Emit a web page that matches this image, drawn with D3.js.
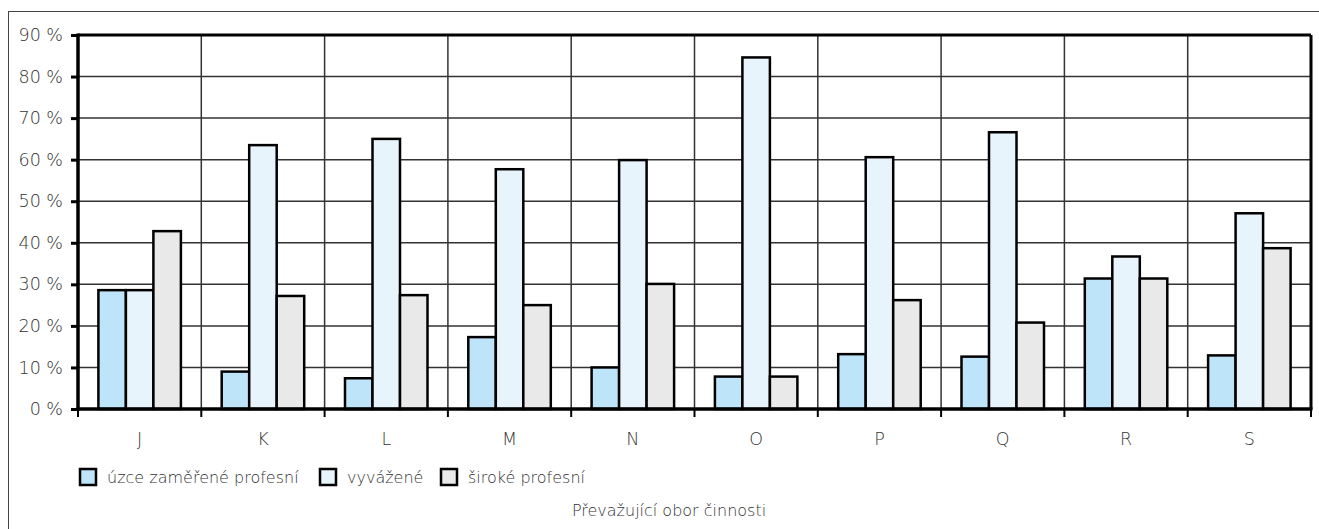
<!DOCTYPE html>
<html><head><meta charset="utf-8">
<script src="https://cdn.jsdelivr.net/npm/d3@7"></script>
<style>
body{margin:0;background:#fff;}
text{font-family:"DejaVu Sans",sans-serif;font-weight:200;fill:#333;}
</style></head>
<body><svg id="c" width="1319" height="529"></svg>
<script>
const categories = ["J","K","L","M","N","O","P","Q","R","S"];
const seriesNames = ["úzce zaměřené profesní","vyvážené","široké profesní"];
const uzce = [28.6, 9.0, 7.4, 17.3, 10.0, 7.8, 13.2, 12.6, 31.4, 12.9];
const vyvazene = [28.6, 63.5, 65.0, 57.7, 59.9, 84.6, 60.6, 66.6, 36.7, 47.1];
const siroke = [42.8, 27.2, 27.4, 25.0, 30.1, 7.8, 26.2, 20.8, 31.4, 38.7];
const yTicks = [0,10,20,30,40,50,60,70,80,90];
const axisTitle = "Převažující obor činnosti";
const colors = ["#bde4f8","#e8f4fc","#e9e9e9"];

const svg = d3.select("#c");
const pL = 78, pR = 1311, pT = 35, pB = 409;
const series = [uzce, vyvazene, siroke];
const FF = '"DejaVu Sans", sans-serif';

// outer frame
svg.append("rect").attr("x",8.5).attr("y",11.5).attr("width",1320).attr("height",530)
  .attr("fill","none").attr("stroke","#444").attr("stroke-width",1);

const x = d3.scaleBand().domain(categories).range([pL,pR]).paddingInner(0).paddingOuter(0);
const y = d3.scaleLinear().domain([0,90]).range([pB,pT]);
const xs = d3.scaleBand().domain([0,1,2]).range([0, x.bandwidth()]).paddingInner(0).paddingOuter(0.742);

// gridlines
svg.append("g").selectAll("line").data(yTicks.filter(d=>d>0 && d<90)).join("line")
  .attr("x1",pL).attr("x2",pR).attr("y1",d=>y(d)).attr("y2",d=>y(d))
  .attr("stroke","#333").attr("stroke-width",1.5);
svg.append("g").selectAll("line").data(categories.slice(1)).join("line")
  .attr("x1",d=>x(d)).attr("x2",d=>x(d)).attr("y1",pT).attr("y2",pB)
  .attr("stroke","#333").attr("stroke-width",1.5);

// bars
const g = svg.append("g");
categories.forEach((c,i)=>{
  series.forEach((s,j)=>{
    g.append("rect")
      .attr("x", x(c)+xs(j)).attr("width", xs.bandwidth())
      .attr("y", y(s[i])).attr("height", y(0)-y(s[i]))
      .attr("fill", colors[j]).attr("stroke","#000").attr("stroke-width",2.5);
  });
});

// frame of plot area
svg.append("line").attr("x1",pL).attr("x2",pR).attr("y1",pT).attr("y2",pT).attr("stroke","#000").attr("stroke-width",3);
svg.append("line").attr("x1",pR).attr("x2",pR).attr("y1",pT).attr("y2",pB).attr("stroke","#000").attr("stroke-width",3);

// y axis
const yAxis = d3.axisLeft(y).tickValues(yTicks).tickSize(7).tickPadding(8).tickFormat(d=>d+" %");
const ya = svg.append("g").attr("transform",`translate(${pL},0)`).call(yAxis);
ya.select(".domain").attr("stroke","#000").attr("stroke-width",3.5).attr("d",`M0,${pT-1.5}V${pB+1.5}`);
ya.selectAll(".tick line").attr("stroke","#000").attr("stroke-width",3);
ya.selectAll(".tick text").attr("font-size",17.5).attr("font-family",FF).attr("font-weight",200).attr("fill","#333");

// x axis
const xAxis = d3.axisBottom(x).tickSize(0).tickPadding(24);
const xa = svg.append("g").attr("transform",`translate(0,${pB})`).call(xAxis);
xa.select(".domain").attr("stroke","#000").attr("stroke-width",3.5).attr("d",`M${pL-1.5},0H${pR+1.5}`);
xa.selectAll(".tick text").attr("font-size",17.5).attr("font-family",FF).attr("font-weight",200).attr("fill","#333");
// boundary ticks
svg.append("g").selectAll("line").data(d3.range(categories.length+1)).join("line")
  .attr("x1",d=>pL+d*x.bandwidth()).attr("x2",d=>pL+d*x.bandwidth())
  .attr("y1",pB).attr("y2",pB+8).attr("stroke","#000").attr("stroke-width",2);

// legend
const legX = [79, 319, 440];
const lg = svg.append("g");
seriesNames.forEach((n,j)=>{
  lg.append("rect").attr("x",legX[j]+1).attr("y",469).attr("width",16).attr("height",16)
    .attr("fill",colors[j]).attr("stroke","#000").attr("stroke-width",2.5);
  lg.append("text").attr("x",legX[j]+28).attr("y",483).attr("font-size",16).text(n);
});

svg.append("text").attr("x",669).attr("y",516).attr("text-anchor","middle").attr("font-size",16).text(axisTitle);
</script></body></html>
